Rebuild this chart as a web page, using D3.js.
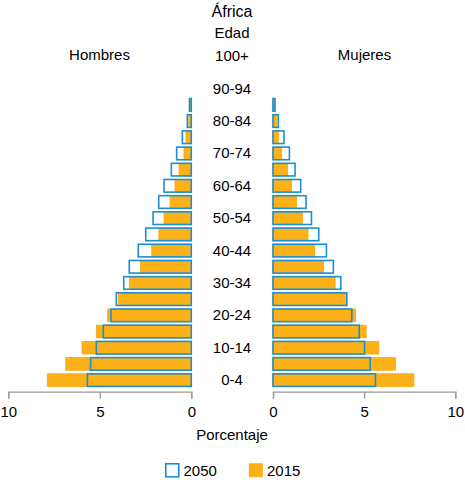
<!DOCTYPE html>
<html>
<head>
<meta charset="utf-8">
<title>África</title>
<script src="https://d3js.org/d3.v7.min.js"></script>
<style>
  body { margin: 0; background: #fff; }
  text { font-family: "Liberation Sans", Arial, sans-serif; fill: #000; }
</style>
</head>
<body>
<script>
// age groups, bottom to top
const ages = ["0-4","5-9","10-14","15-19","20-24","25-29","30-34","35-39","40-44","45-49",
  "50-54","55-59","60-64","65-69","70-74","75-79","80-84","85-89","90-94","95-99","100+"]
const men2015 = [7.87,6.86,5.97,5.19,4.57,3.99,3.39,2.77,2.16,1.77,1.49,1.16,0.89,0.67,0.40,0.29,0.14,0.07,0,0,0]
const men2050 = [5.68,5.50,5.19,4.81,4.39,4.10,3.69,3.39,2.90,2.49,2.09,1.78,1.49,1.09,0.80,0.49,0.22,0.10,0,0,0]
const women2015 = [7.73,6.72,5.81,5.11,4.52,4.01,3.41,2.78,2.29,1.92,1.61,1.30,1.01,0.79,0.48,0.29,0.20,0.09,0,0,0]
const women2050 = [5.62,5.33,5.02,4.73,4.32,4.05,3.72,3.31,2.93,2.51,2.11,1.81,1.52,1.21,0.90,0.60,0.29,0.11,0,0,0]
const xTicks = [0, 5, 10]
const years = ["2050", "2015"]

const W = 465, H = 480
const orange = "#fbb117", blue = "#1b8fd5"

const svg = d3.select("body").append("svg").attr("width", W).attr("height", H)

let xL = d3.scaleLinear().domain([0, 10]).range([191.3, 8.3])
let xR = d3.scaleLinear().domain([0, 10]).range([273, 455.3])
let y = d3.scaleBand().domain(ages.slice().reverse()).range([48.2, 388.2])
  .paddingInner(0.22).paddingOuter(0.11)

const rows = ages.map((a, i) => ({age: a, m15: men2015[i], m50: men2050[i], w15: women2015[i], w50: women2050[i]}))

// 2015 bars (filled)
svg.selectAll(".m15").data(rows.filter(d => d.m15 > 0)).enter().append("rect")
  .attr("x", d => xL(d.m15)).attr("y", d => y(d.age))
  .attr("width", d => xL(0) - xL(d.m15)).attr("height", y.bandwidth())
  .attr("fill", orange).attr("stroke", "#f6a90c").attr("stroke-width", 0.8)
svg.selectAll(".w15").data(rows.filter(d => d.w15 > 0)).enter().append("rect")
  .attr("x", xR(0)).attr("y", d => y(d.age))
  .attr("width", d => xR(d.w15) - xR(0)).attr("height", y.bandwidth())
  .attr("fill", orange).attr("stroke", "#f6a90c").attr("stroke-width", 0.8)

// 2050 bars (outline)
svg.selectAll(".m50").data(rows.filter(d => d.m50 > 0)).enter().append("rect")
  .attr("x", d => xL(d.m50)).attr("y", d => y(d.age))
  .attr("width", d => xL(0) - xL(d.m50)).attr("height", y.bandwidth())
  .attr("fill", "none").attr("stroke", blue).attr("stroke-width", 1.6)
svg.selectAll(".w50").data(rows.filter(d => d.w50 > 0)).enter().append("rect")
  .attr("x", xR(0)).attr("y", d => y(d.age))
  .attr("width", d => xR(d.w50) - xR(0)).attr("height", y.bandwidth())
  .attr("fill", "none").attr("stroke", blue).attr("stroke-width", 1.6)

// age labels, every other group
svg.selectAll(".agelab").data(ages.filter((a, i) => i % 2 == 0)).enter().append("text")
  .attr("x", 232).attr("y", d => y(d) + y.bandwidth() / 2 + 1)
  .attr("text-anchor", "middle").attr("dominant-baseline", "middle")
  .style("font-size", "15px").text(d => d)

// axes
const axisY = 391.7
const styleAxis = g => {
  g.selectAll("path, line").attr("stroke", "#9a9a9a").attr("stroke-width", 1.3)
  g.selectAll("text").style("font-size", "15px").attr("fill", "#000").style("font-family", "Liberation Sans, Arial, sans-serif")
}
svg.append("g").attr("transform", `translate(0,${axisY})`)
  .call(d3.axisBottom(xL).tickValues(xTicks).tickSize(7).tickSizeOuter(7).tickPadding(8))
  .call(styleAxis)
svg.append("g").attr("transform", `translate(0,${axisY})`)
  .call(d3.axisBottom(xR).tickValues(xTicks).tickSize(7).tickSizeOuter(7).tickPadding(8))
  .call(styleAxis)

// titles
svg.append("text").attr("x", 232).attr("y", 16.7).attr("text-anchor", "middle")
  .style("font-size", "16px").text("África")
svg.append("text").attr("x", 232).attr("y", 38.3).attr("text-anchor", "middle")
  .style("font-size", "15px").text("Edad")
svg.append("text").attr("x", 99.5).attr("y", 60).attr("text-anchor", "middle")
  .style("font-size", "15px").text("Hombres")
svg.append("text").attr("x", 364.5).attr("y", 60).attr("text-anchor", "middle")
  .style("font-size", "15px").text("Mujeres")
svg.append("text").attr("x", 232).attr("y", 440).attr("text-anchor", "middle")
  .style("font-size", "15px").text("Porcentaje")

// legend
const leg = svg.selectAll(".leg").data(years).enter().append("g")
  .attr("transform", (d, i) => `translate(${165 + i * 83.5},463)`)
leg.append("rect").attr("x", 0.8).attr("y", 0.8).attr("width", 13).attr("height", 13)
  .attr("fill", d => d == "2050" ? "#fff" : orange)
  .attr("stroke", d => d == "2050" ? blue : "#f6a90c").attr("stroke-width", d => d == "2050" ? 1.6 : 0.8)
leg.append("text").attr("x", 18.5).attr("y", 12.5).style("font-size", "15px").text(d => d)
</script>
</body>
</html>
